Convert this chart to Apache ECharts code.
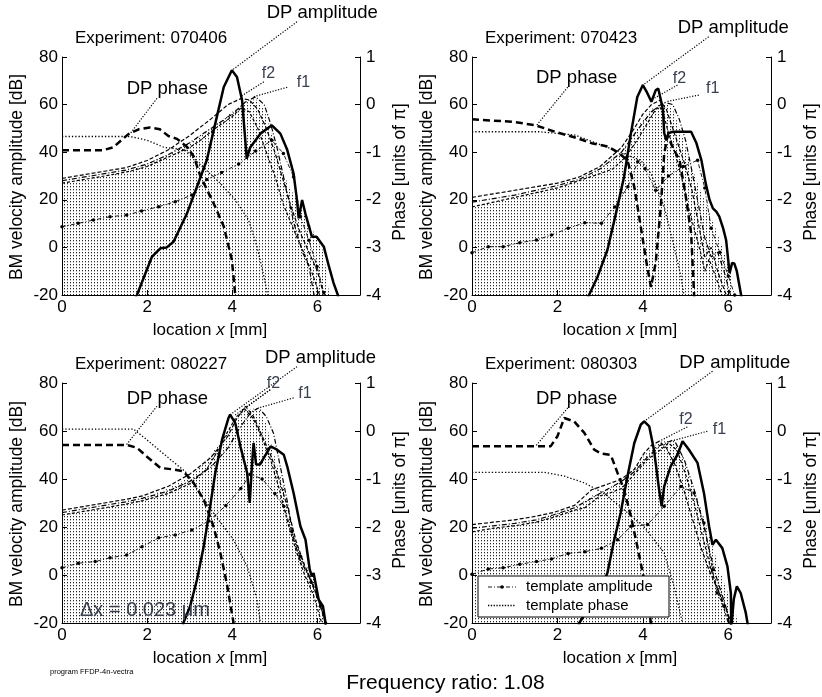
<!DOCTYPE html>
<html><head><meta charset="utf-8">
<script src="https://cdn.jsdelivr.net/npm/echarts@6/dist/echarts.min.js"></script>
<style>html,body{margin:0;padding:0;background:#fff}#c{width:822px;height:697px}</style>
</head><body><div id="c"></div>
<script>
// ---------- data ----------
const experiments = ['070406', '070423', '080227', '080303'];
const xTicks = [0, 2, 4, 6];
const ampTicks = [-20, 0, 20, 40, 60, 80];
const phaseTicks = [-4, -3, -2, -1, 0, 1];

// panel 1 (070406)
const p1_dpAmp = [[1.7,-22],[1.76,-20],[2.11,-4],[2.31,-0.4],[2.46,0],[2.62,2.4],[2.93,14],[3.17,25.5],[3.4,36.6],[3.6,52],[3.8,67.4],[3.99,74.4],[4.11,71.6],[4.23,61.8],[4.34,37.3],[4.42,42],[4.66,47.8],[4.93,51.3],[5.13,47.8],[5.29,41],[5.44,31],[5.52,19.9],[5.56,12.2],[5.64,19.9],[5.72,14],[5.87,4.5],[5.98,4.5],[6.15,0.3],[6.27,-8],[6.38,-15],[6.48,-20],[6.5,-22]];
const p1_dpPhase = [[0,-0.96],[0.95,-0.96],[1.2,-0.9],[1.56,-0.62],[1.8,-0.52],[2.07,-0.48],[2.3,-0.52],[2.5,-0.66],[2.7,-0.72],[2.95,-0.9],[3.1,-1.1],[3.25,-1.5],[3.56,-2.07],[3.8,-2.56],[3.99,-3.26],[4.07,-4],[4.1,-4.3]];
const p1_f2 = [[0,29],[0.5,30.5],[1,32],[1.5,33.5],[2,36.5],[2.5,41],[3,47],[3.5,54],[3.9,60],[4.2,62.5],[4.4,62],[4.6,58],[4.8,50],[5.0,40],[5.2,28],[5.4,16],[5.6,6],[5.8,-2],[6.0,-10],[6.15,-20],[6.2,-22]];
const p1_f1 = [[0,28],[0.5,29.5],[1,31],[1.5,32.5],[2,35],[2.5,39],[3,44],[3.5,50],[4,56],[4.3,61],[4.55,63.3],[4.75,60],[4.9,52],[5.05,42],[5.25,26],[5.45,10],[5.65,-2],[5.8,-8],[5.91,-19],[5.95,-22]];
const p1_f3 = [[0,27],[0.5,28.5],[1,30],[1.6,32],[2,34],[2.5,38],[3,42],[3.25,45],[3.6,50],[4,55],[4.2,58.5],[4.4,57],[4.6,50],[4.8,40],[5.0,30],[5.2,18],[5.5,5],[5.7,-3],[5.9,-12],[6.05,-20],[6.1,-22]];
const p1_fill = [[0,27],[0.5,28.5],[1,30],[1.5,32],[2,35],[2.5,39],[3,44],[3.5,50],[4,57],[4.3,61],[4.55,62.5],[4.75,58],[4.95,46],[5.15,33],[5.35,25],[5.52,20],[5.75,12],[5.95,5],[6.15,-2],[6.22,-12],[6.28,-20]];
const p1_tplAmp = [[0,8.7],[0.38,10.1],[0.74,11.5],[1.13,12.9],[1.52,13.6],[1.87,15.3],[2.27,17.1],[2.66,19.2],[3.05,22],[3.4,28.5],[3.75,31.5],[4.15,35],[4.55,40.5],[4.93,45],[5.2,39.5],[5.44,29.6],[5.6,13],[5.8,3],[5.99,-8],[6.15,-19],[6.2,-22]];
const p1_tplPhase = [[0,-0.67],[1.6,-0.67],[2.0,-0.75],[2.4,-0.9],[2.89,-0.95],[3.29,-1.3],[3.68,-1.62],[4.07,-2.0],[4.38,-2.42],[4.58,-2.98],[4.74,-3.6],[4.82,-3.95],[4.86,-4.2]];
const p1_leaders = [[[5.52,94.8],[3.99,74.4]],[[2.23,62.6],[1.6,47.8]],[[4.74,69.6],[4.19,63.3]],[[5.29,67.3],[4.5,63.3]]];

// panel 2 (070423)
const p2_dpAmp = [[2.7,-22],[2.74,-20],[2.94,-12.3],[3.17,-1.1],[3.37,14.3],[3.56,29.7],[3.72,47.8],[3.87,63.2],[4.0,68.2],[4.1,65],[4.2,61.2],[4.3,66],[4.36,66.8],[4.42,62],[4.47,57.7],[4.5,48],[4.55,45],[4.6,48],[4.7,48.6],[5.13,48.6],[5.25,44],[5.37,36.7],[5.47,27],[5.56,20],[5.64,16.4],[5.72,15],[5.79,12.9],[5.88,8],[5.95,3],[6.03,-10.8],[6.09,-6.5],[6.14,-6.7],[6.2,-10],[6.3,-20],[6.32,-22]];
const p2_dpPhase = [[0,-0.31],[0.93,-0.36],[1.47,-0.43],[1.94,-0.57],[2.41,-0.69],[2.8,-0.81],[3.18,-0.88],[3.41,-1.0],[3.64,-1.17],[3.8,-1.73],[3.95,-2.56],[4.1,-3.4],[4.19,-3.83],[4.3,-3.33],[4.42,-2.15],[4.5,-1.03],[4.58,-0.65],[4.7,-0.9],[4.86,-1.17],[5.0,-1.9],[5.13,-2.7],[5.2,-4],[5.22,-4.2]];
const p2_f2 = [[0,21],[0.5,22.5],[1,24],[1.5,25.5],[2,27],[2.5,29.5],[3,34],[3.5,42],[3.8,50],[4.0,56],[4.2,60],[4.4,61.8],[4.55,58],[4.7,50],[4.85,42],[5.0,34],[5.15,24],[5.3,10],[5.45,-4],[5.6,0],[5.75,-10],[5.95,-20],[6.0,-22]];
const p2_f1 = [[0,19],[0.5,20.5],[1,22],[1.5,24],[2,26],[2.5,28.5],[3,33],[3.5,40],[3.9,50],[4.2,57],[4.5,61],[4.7,60],[4.85,54],[5.0,45],[5.15,32],[5.3,18],[5.45,4],[5.6,-4],[5.75,-2],[5.9,-10],[6.05,-20],[6.1,-22]];
const p2_f3 = [[0,17],[0.5,19],[1,21],[1.5,23],[2,25],[2.5,28],[3,31],[3.3,33],[3.6,38],[3.9,46],[4.1,52],[4.3,58],[4.4,59],[4.5,55],[4.6,48],[4.75,40],[4.9,30],[5.05,18],[5.2,8],[5.35,-2],[5.45,-10],[5.55,-5],[5.7,-12],[5.85,-20],[5.9,-22]];
const p2_fill = [[0,17],[0.5,19],[1,21],[1.5,23],[2,25],[2.5,28],[3,33],[3.5,40],[3.8,48],[4.0,54],[4.2,58],[4.4,60.5],[4.55,61],[4.7,58],[4.9,48],[5.1,36],[5.3,26],[5.44,20],[5.7,8],[5.9,-2],[6.05,-10],[6.12,-20]];
const p2_tplAmp = [[0,-2.2],[0.38,0.3],[0.73,0.3],[1.12,2],[1.51,3.1],[1.86,5.2],[2.25,8],[2.64,10.4],[3.03,10.1],[3.34,17],[3.65,25.5],[3.88,36],[4.05,33],[4.3,24],[4.6,30],[4.95,34],[5.28,36.6],[5.45,25],[5.6,8],[5.8,-2],[6.0,-12],[6.15,-20],[6.2,-22]];
const p2_tplPhase = [[0,-0.57],[1.57,-0.57],[2.41,-0.64],[3.18,-0.9],[3.6,-1.05],[3.95,-1.17],[4.19,-1.45],[4.5,-2.15],[4.73,-2.98],[4.89,-3.6],[4.96,-4],[5.0,-4.2]];
const p2_leaders = [[[5.54,88.5],[4.0,68.2]],[[2.24,67.3],[1.5,51]],[[4.81,68.2],[4.19,61.9]],[[5.31,64],[4.54,61.2]]];

// panel 3 (080227)
const p3_dpAmp = [[2.83,-22],[2.85,-20],[3.01,-13],[3.17,-2],[3.33,12],[3.48,28.6],[3.6,42.5],[3.76,56.4],[3.91,65.4],[3.95,66.8],[4.07,63.3],[4.19,53.6],[4.35,42.5],[4.41,30],[4.46,45.3],[4.5,55],[4.56,46],[4.65,46],[4.74,48.8],[4.9,53.6],[5.05,52.2],[5.21,50.1],[5.29,45.3],[5.44,34.2],[5.6,20.3],[5.72,14.7],[5.82,2.2],[5.87,-0.6],[5.91,0.8],[6.03,-10.3],[6.13,-13],[6.19,-20],[6.2,-22]];
const p3_dpPhase = [[0,-0.29],[1.52,-0.29],[1.76,-0.35],[1.99,-0.53],[2.31,-0.77],[2.62,-0.8],[2.85,-0.84],[3.09,-1.08],[3.33,-1.43],[3.56,-1.99],[3.72,-2.54],[3.87,-3.17],[4.03,-4],[4.06,-4.2]];
const p3_f2 = [[0,27],[0.5,28.5],[1,30],[1.5,31.5],[1.9,33],[2.5,37],[3,42],[3.5,49],[3.9,58],[4.1,65],[4.31,70.3],[4.5,66],[4.7,58],[4.9,50],[5.1,40],[5.3,28],[5.5,14],[5.7,4],[5.9,-4],[6.05,-12],[6.19,-20],[6.22,-22]];
const p3_f1 = [[0,26],[0.5,27.5],[1,29],[1.5,30.5],[1.9,32],[2.5,35],[3,39],[3.5,45],[3.9,53],[4.2,62],[4.45,68],[4.62,69.6],[4.8,66],[4.97,59],[5.13,45],[5.3,30],[5.44,15],[5.6,6],[5.84,-2],[6.07,-12],[6.2,-20],[6.22,-22]];
const p3_f3 = [[0,25],[0.5,26.5],[1,28],[1.5,29.5],[1.9,31],[2.5,34],[3,38],[3.4,44],[3.6,50],[3.9,60],[4.1,66],[4.3,69],[4.5,65],[4.7,57],[4.9,48],[5.1,36],[5.3,22],[5.5,10],[5.7,0],[5.9,-8],[6.1,-20],[6.12,-22]];
const p3_fill = [[0,25],[0.5,26.5],[1,28],[1.5,30],[1.9,32],[2.5,36],[3,41],[3.5,50],[3.9,60],[4.3,69],[4.62,69.5],[4.8,63],[4.93,53.5],[5.1,43],[5.25,34],[5.48,15],[5.7,5],[5.95,-2],[6.14,-18],[6.2,-20]];
const p3_tplAmp = [[0,3],[0.38,4.9],[0.78,5.6],[1.13,7.2],[1.52,8.3],[1.88,11.8],[2.27,15.5],[2.66,16.7],[3.05,18.8],[3.45,22.5],[3.85,29],[4.2,36],[4.42,42],[4.7,40],[5.0,34],[5.21,28.6],[5.4,18],[5.6,7.8],[5.85,-3],[6.07,-13],[6.19,-20],[6.22,-22]];
const p3_tplPhase = [[0,0.04],[1.68,0.04],[1.99,-0.18],[2.46,-0.53],[2.9,-0.85],[3.2,-1.25],[3.56,-1.71],[4.03,-2.27],[4.35,-2.82],[4.58,-3.51],[4.66,-4],[4.7,-4.2]];
const p3_leaders = [[[5.52,86.8],[3.95,66.8]],[[2.23,70.3],[1.51,54.2]],[[4.89,77.2],[4.31,69.6]],[[4.89,77.2],[4.07,66.7]],[[5.44,73.8],[4.62,69.6]]];

// panel 4 (080303)
const p4_dpAmp = [[2.49,-22],[2.51,-20],[2.8,-12],[3.0,-6],[3.17,0.8],[3.33,14.7],[3.48,25.8],[3.64,41.1],[3.8,55],[3.95,62.6],[4.03,64],[4.15,61.9],[4.26,52.2],[4.38,35.6],[4.44,28.6],[4.5,36.9],[4.65,45.3],[4.81,50.1],[4.93,55.7],[5.08,52.2],[5.28,46.7],[5.43,34.2],[5.55,20.3],[5.63,12.6],[5.71,14.7],[5.86,11.2],[5.98,3.6],[6.06,-7.5],[6.07,-22],[6.1,-22],[6.13,-10],[6.2,-4.7],[6.29,-7.5],[6.41,-15.8],[6.45,-20],[6.46,-22]];
const p4_dpPhase = [[0,-0.32],[1.84,-0.32],[2.0,-0.11],[2.16,0.27],[2.39,0.2],[2.63,-0.04],[2.86,-0.39],[3.03,-0.47],[3.25,-0.5],[3.41,-0.88],[3.56,-1.22],[3.72,-1.78],[3.87,-2.4],[4.03,-3.1],[4.19,-4],[4.22,-4.2]];
const p4_f2 = [[0,21],[0.5,22],[1,23],[1.5,24.5],[1.9,26],[2.4,29],[2.8,35.5],[3.2,38],[3.5,40],[3.8,44],[4.03,50.8],[4.2,54],[4.38,55.7],[4.55,53],[4.75,46],[4.95,36],[5.15,24],[5.35,12],[5.55,2],[5.75,-6],[5.95,-14],[6.05,-20],[6.08,-22]];
const p4_f1 = [[0,19.5],[0.5,20.5],[1,21.5],[1.5,23],[1.9,25],[2.4,28],[2.8,32],[3.2,36],[3.5,39],[3.8,43],[4.1,49],[4.4,54],[4.73,56.4],[4.97,48],[5.2,35.6],[5.43,20.3],[5.59,7.8],[5.74,-2],[5.94,-13],[6.06,-20],[6.08,-22]];
const p4_f3 = [[0,18],[0.5,19.5],[1,20.5],[1.5,22],[1.9,24],[2.4,27],[2.64,28],[3.0,33],[3.2,34],[3.5,36],[3.8,42],[4.1,48],[4.4,52],[4.6,55],[4.8,52],[5.0,42],[5.2,30],[5.4,16],[5.6,2],[5.8,-8],[6.0,-20],[6.02,-22]];
const p4_fill = [[0,18],[0.5,19.5],[1,21],[1.5,22.5],[1.9,25],[2.4,28],[2.8,33],[3.1,35],[3.4,38],[3.8,45],[4.1,51],[4.38,55.5],[4.73,56],[4.95,49],[5.2,36],[5.43,24],[5.6,14],[5.8,2],[6.0,-8],[6.14,-13],[6.22,-20]];
const p4_tplAmp = [[0,0.3],[0.38,2.5],[0.73,3],[1.12,4.5],[1.51,5.6],[1.86,6.7],[2.25,9],[2.64,9.7],[3.03,11.1],[3.41,14.7],[3.72,20.3],[4.11,21],[4.5,28.6],[4.89,36.9],[5.2,34.2],[5.43,21.7],[5.63,2.2],[5.74,-7.5],[5.9,-13],[6.06,-20],[6.08,-22]];
const p4_tplPhase = [[0,-0.86],[1.69,-0.86],[2.16,-0.94],[2.63,-1.08],[3.09,-1.3],[3.56,-1.64],[4.03,-2.0],[4.5,-2.54],[4.73,-3.24],[4.89,-3.85],[4.95,-4.1]];
const p4_leaders = [[[5.63,84.9],[4.03,64]],[[2.24,69.6],[1.5,53.9]],[[5.04,61.7],[4.38,55.7]],[[5.51,59.9],[4.73,56.1]]];

const panels = [
  {dpAmp:p1_dpAmp, dpPhase:p1_dpPhase, f2:p1_f2, f1:p1_f1, f3:p1_f3, fill:p1_fill, tplAmp:p1_tplAmp, tplPhase:p1_tplPhase, leaders:p1_leaders},
  {dpAmp:p2_dpAmp, dpPhase:p2_dpPhase, f2:p2_f2, f1:p2_f1, f3:p2_f3, fill:p2_fill, tplAmp:p2_tplAmp, tplPhase:p2_tplPhase, leaders:p2_leaders},
  {dpAmp:p3_dpAmp, dpPhase:p3_dpPhase, f2:p3_f2, f1:p3_f1, f3:p3_f3, fill:p3_fill, tplAmp:p3_tplAmp, tplPhase:p3_tplPhase, leaders:p3_leaders},
  {dpAmp:p4_dpAmp, dpPhase:p4_dpPhase, f2:p4_f2, f1:p4_f1, f3:p4_f3, fill:p4_fill, tplAmp:p4_tplAmp, tplPhase:p4_tplPhase, leaders:p4_leaders}
];

// ---------- layout ----------
const FONT = '"Liberation Sans", Arial, Helvetica, sans-serif';
const grids = [
  {left:62, top:57, width:298, height:238},
  {left:472, top:57, width:299, height:238},
  {left:62, top:383, width:298, height:240},
  {left:472, top:383, width:299, height:240}
];
const textLayout = [
  {exp:[75,38], amp:[266.7,13], ph:[126.7,89], f2:[261.7,74], f1:[296.7,83], yl:[17,177], yr:[400,172], xl:[210,330]},
  {exp:[485,38], amp:[677.7,27.5], ph:[536,78], f2:[672.7,79], f1:[706,89], yl:[427,177], yr:[811,172], xl:[620,330]},
  {exp:[75,364.5], amp:[265,357.5], ph:[126.7,398.5], f2:[266.7,384], f1:[298.3,394], yl:[17,504], yr:[400,500], xl:[210,658]},
  {exp:[485,364.5], amp:[679.3,362.5], ph:[536,398.5], f2:[679.3,420], f1:[712.7,430], yl:[427,504], yr:[811,500], xl:[620,658]}
];

// dot pattern (columns of dots)
const pc = document.createElement('canvas');
pc.width = 3; pc.height = 3;
const pctx = pc.getContext('2d');
pctx.fillStyle = 'rgba(0,0,0,0.85)';
pctx.fillRect(1, 0, 1, 1);
pctx.fillStyle = 'rgba(0,0,0,0.25)';
pctx.fillRect(1, 1, 1, 1);

const xAxes = [], yAxes = [], series = [], graphic = [];
const axisCommon = {
  axisLine: {show: true, onZero: false, lineStyle: {color: '#000', width: 1}},
  axisTick: {show: true, inside: true, length: 5, lineStyle: {color: '#000'}},
  splitLine: {show: false}
};
const lbl = {color: '#000', fontSize: 17, fontFamily: FONT};

panels.forEach((p, i) => {
  xAxes.push(Object.assign({gridIndex: i, type: 'value', min: xTicks[0], max: 7, interval: 2,
    axisLabel: Object.assign({margin: 4, formatter: v => xTicks.includes(v) ? String(v) : ''}, lbl)}, axisCommon));
  yAxes.push(Object.assign({gridIndex: i, type: 'value', position: 'left', min: ampTicks[0], max: ampTicks[ampTicks.length-1], interval: 20,
    axisLabel: Object.assign({margin: 4}, lbl)}, axisCommon));
  yAxes.push(Object.assign({gridIndex: i, type: 'value', position: 'right', min: phaseTicks[0], max: phaseTicks[phaseTicks.length-1], interval: 1,
    axisLabel: Object.assign({margin: 6}, lbl)}, axisCommon));
  const L = 2*i, R = 2*i+1;
  const base = {type: 'line', xAxisIndex: i, showSymbol: false, silent: true, smooth: false};
  series.push(Object.assign({}, base, {name: 'fill'+i, yAxisIndex: L, data: p.fill, z: 1,
    lineStyle: {opacity: 0}, areaStyle: {color: {image: pc, repeat: 'repeat'}, origin: 'start', opacity: 1}}));
  series.push(Object.assign({}, base, {name: 'f3_'+i, yAxisIndex: L, data: p.f3, z: 2,
    lineStyle: {color: '#000', width: 1.2, type: [3, 2]}}));
  series.push(Object.assign({}, base, {name: 'f2_'+i, yAxisIndex: L, data: p.f2, z: 2,
    lineStyle: {color: '#000', width: 1.2, type: [4, 2]}}));
  series.push(Object.assign({}, base, {name: 'f1_'+i, yAxisIndex: L, data: p.f1, z: 2,
    lineStyle: {color: '#000', width: 1.2, type: [5, 2, 1, 2]}}));
  series.push(Object.assign({}, base, {name: i === 3 ? 'template amplitude' : 'tplAmp'+i, yAxisIndex: L, data: p.tplAmp, z: 3,
    showSymbol: true, symbol: 'circle', symbolSize: 3.5, itemStyle: {color: '#000'},
    lineStyle: {color: '#000', width: 0.9, type: [4, 2, 1, 2]}}));
  series.push(Object.assign({}, base, {name: i === 3 ? 'template phase' : 'tplPh'+i, yAxisIndex: R, data: p.tplPhase, z: 3,
    lineStyle: {color: '#000', width: 1.3, type: [1.3, 2]}}));
  series.push(Object.assign({}, base, {name: 'dpPhase'+i, yAxisIndex: R, data: p.dpPhase, z: 4,
    lineStyle: {color: '#000', width: 2.5, type: [7, 4]}}));
  series.push(Object.assign({}, base, {name: 'dpAmp'+i, yAxisIndex: L, data: p.dpAmp, z: 4,
    lineStyle: {color: '#000', width: 2.5, type: 'solid'}}));
  p.leaders.forEach((seg, k) => {
    series.push(Object.assign({}, base, {name: 'lead'+i+'_'+k, yAxisIndex: L, data: seg, z: 5, clip: false,
      lineStyle: {color: '#000', width: 1.2, type: [1.2, 1.6]}}));
  });

  const t = textLayout[i];
  const txt = (pos, text, size, extra) => Object.assign({type: 'text', x: pos[0], y: pos[1], z: 50,
    style: {text: text, font: size + 'px ' + FONT, fill: '#000', textAlign: 'left', textVerticalAlign: 'middle'}}, extra || {});
  graphic.push(txt(t.exp, 'Experiment: ' + experiments[i], 17));
  graphic.push(txt(t.amp, 'DP amplitude', 18.5));
  graphic.push(txt(t.ph, 'DP phase', 18.5));
  const f2t = txt(t.f2, 'f2', 16); f2t.style.fill = '#3a4050'; graphic.push(f2t);
  const f1t = txt(t.f1, 'f1', 16); f1t.style.fill = '#3a4050'; graphic.push(f1t);
  const yl = txt(t.yl, 'BM velocity amplitude [dB]', 17.5, {rotation: Math.PI/2}); yl.style.textAlign = 'center'; graphic.push(yl);
  const yr = txt(t.yr, 'Phase [units of π]', 17.5, {rotation: Math.PI/2}); yr.style.textAlign = 'center'; graphic.push(yr);
  graphic.push({type: 'text', x: t.xl[0], y: t.xl[1], z: 50,
    style: {text: 'location {i|x} [mm]', font: '17px ' + FONT, fill: '#000', textAlign: 'center', textVerticalAlign: 'middle',
      rich: {i: {fontStyle: 'italic', fontSize: 17, fontFamily: FONT}}}});
});

// panel 3 note, footer
graphic.push({type: 'text', x: 80, y: 610, z: 50, style: {text: 'Δx = 0.023 μm', font: '20px ' + FONT, fill: '#3a3f4d', textVerticalAlign: 'middle'}});
graphic.push({type: 'text', x: 50, y: 672, z: 50, style: {text: 'program FFDP-4n-vectra', font: '7.5px ' + FONT, fill: '#000', textVerticalAlign: 'middle'}});
graphic.push({type: 'text', x: 445.5, y: 683, z: 50, style: {text: 'Frequency ratio: 1.08', font: '21px ' + FONT, fill: '#000', textAlign: 'center', textVerticalAlign: 'middle'}});

// legend (panel 4)
graphic.push({type: 'rect', z: 60, shape: {x: 478, y: 576, width: 191, height: 41}, style: {fill: '#fff', stroke: '#000', lineWidth: 1}});
graphic.push({type: 'line', z: 61, shape: {x1: 488, y1: 587, x2: 516, y2: 587}, style: {stroke: '#000', lineWidth: 0.9, lineDash: [4, 2, 1, 2]}});
graphic.push({type: 'circle', z: 62, shape: {cx: 502, cy: 587, r: 1.8}, style: {fill: '#000'}});
graphic.push({type: 'line', z: 61, shape: {x1: 488, y1: 605.5, x2: 516, y2: 605.5}, style: {stroke: '#000', lineWidth: 1.3, lineDash: [1.3, 1.5]}});
graphic.push({type: 'text', x: 526, y: 587, z: 61, style: {text: 'template amplitude', font: '15px ' + FONT, fill: '#000', textVerticalAlign: 'middle'}});
graphic.push({type: 'text', x: 526, y: 605.5, z: 61, style: {text: 'template phase', font: '15px ' + FONT, fill: '#000', textVerticalAlign: 'middle'}});

const chart = echarts.init(document.getElementById('c'), null, {renderer: 'canvas'});
chart.setOption({
  animation: false,
  backgroundColor: '#fff',
  grid: grids.map(g => Object.assign({containLabel: false}, g)),
  xAxis: xAxes,
  yAxis: yAxes,
  series: series,
  graphic: graphic
});
</script>
</body></html>
